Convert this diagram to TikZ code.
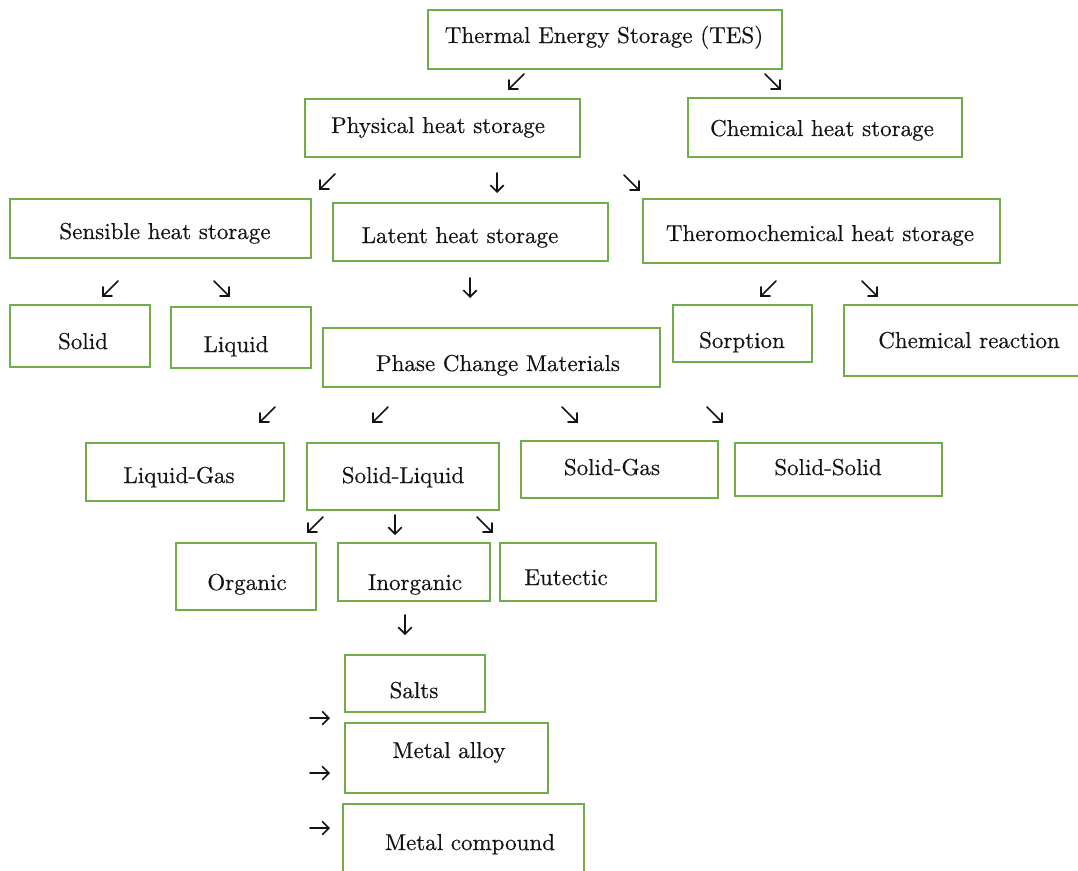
\documentclass[tikz,border=0pt]{standalone}
\usepackage{fontspec}
\newfontfamily\lblfont{lmroman10-regular.otf}[FakeBold=0.4]
\usetikzlibrary{arrows.meta}
\definecolor{boxgreen}{HTML}{70AD47}
\definecolor{txtc}{HTML}{141414}
\tikzset{
  box/.style={draw=boxgreen, line width=1.6pt, rectangle, inner sep=0pt, fill=none},
  lbl/.style={text=txtc, font=\lblfont\fontsize{23}{27}\selectfont, inner sep=0pt, anchor=base},
  garr/.style={draw=txtc, line width=1.6pt, line cap=round, -{Straight Barb[length=6.5pt,width=13pt,line cap=round]}},
  pics/adl/.style={code={\draw[garr] (8,-8) -- (-8,8);}},
  pics/adr/.style={code={\draw[garr] (-8,-8) -- (8,8);}},
  pics/add/.style={code={\draw[garr] (0,-10) -- (0,10);}},
  pics/arr/.style={code={\draw[garr] (-10,0) -- (10,0);}},
}
\begin{document}
\begin{tikzpicture}[x=1pt,y=-1pt]
\useasboundingbox[fill=white] (0,0) rectangle (1078,870);
% boxes
\node[box, minimum width=354pt, minimum height=59pt] (tes) at (605,39.5) {};
\node[box, minimum width=275pt, minimum height=58pt] (phys) at (442.5,128) {};
\node[box, minimum width=274pt, minimum height=59pt] (chem) at (825,127.5) {};
\node[box, minimum width=301pt, minimum height=59pt] (sens) at (160.5,228.5) {};
\node[box, minimum width=275pt, minimum height=58pt] (lat) at (470.5,232) {};
\node[box, minimum width=357pt, minimum height=64pt] (thermo) at (821.5,231) {};
\node[box, minimum width=140pt, minimum height=62pt] (solid) at (80,336) {};
\node[box, minimum width=140pt, minimum height=61pt] (liquid) at (241,337.5) {};
\node[box, minimum width=337pt, minimum height=59pt] (pcm) at (491.5,357.5) {};
\node[box, minimum width=139pt, minimum height=57pt] (sorp) at (742.5,333.5) {};
\node[box, minimum width=241pt, minimum height=71pt] (chemr) at (964.5,340.5) {};
\node[box, minimum width=198pt, minimum height=58pt] (lg) at (185,472) {};
\node[box, minimum width=192pt, minimum height=67pt] (sl) at (403,476.5) {};
\node[box, minimum width=197pt, minimum height=57pt] (sg) at (619.5,469.5) {};
\node[box, minimum width=207pt, minimum height=53pt] (ss) at (838.5,469.5) {};
\node[box, minimum width=140pt, minimum height=67pt] (org) at (246,576.5) {};
\node[box, minimum width=152pt, minimum height=58pt] (inorg) at (414,572) {};
\node[box, minimum width=156pt, minimum height=58pt] (eut) at (578,572) {};
\node[box, minimum width=140pt, minimum height=57pt] (salts) at (415,683.5) {};
\node[box, minimum width=203pt, minimum height=70pt] (alloy) at (446.5,758) {};
\node[box, minimum width=241pt, minimum height=76pt] (comp) at (463.5,842) {};
% labels
\node[lbl] (tes-t) at (604,43) {Thermal Energy Storage (TES)};
\node[lbl] (phys-t) at (438,133) {Physical heat storage};
\node[lbl] (chem-t) at (822,136) {Chemical heat storage};
\node[lbl] (sens-t) at (165,239) {Sensible heat storage};
\node[lbl] (lat-t) at (460,243) {Latent heat storage};
\node[lbl] (thermo-t) at (820,241) {Theromochemical heat storage};
\node[lbl] (solid-t) at (83,349) {Solid};
\node[lbl] (liquid-t) at (236,352) {Liquid};
\node[lbl] (sorp-t) at (742,348) {Sorption};
\node[lbl] (chemr-t) at (969,348) {Chemical reaction};
\node[lbl] (pcm-t) at (498,371) {Phase Change Materials};
\node[lbl] (lg-t) at (179,483) {Liquid-Gas};
\node[lbl] (sl-t) at (403,483) {Solid-Liquid};
\node[lbl] (sg-t) at (612,475) {Solid-Gas};
\node[lbl] (ss-t) at (828,475) {Solid-Solid};
\node[lbl] (org-t) at (247,590) {Organic};
\node[lbl] (inorg-t) at (415,590) {Inorganic};
\node[lbl] (eut-t) at (566,585) {Eutectic};
\node[lbl] (salts-t) at (414,698) {Salts};
\node[lbl] (alloy-t) at (449,758) {Metal alloy};
\node[lbl] (comp-t) at (470,850) {Metal compound};
% arrow glyphs
\pic at (516,82) {adl};
\pic at (773,82) {adr};
\pic at (327,182) {adl};
\pic at (497,183) {add};
\pic at (632,183) {adr};
\pic at (110,289) {adl};
\pic at (222,289) {adr};
\pic at (470,288) {add};
\pic at (768,289) {adl};
\pic at (870,289) {adr};
\pic at (267,415) {adl};
\pic at (380,415) {adl};
\pic at (570,415) {adr};
\pic at (715,415) {adr};
\pic at (315,525) {adl};
\pic at (395,525) {add};
\pic at (485,525) {adr};
\pic at (405,625) {add};
\pic at (320,718) {arr};
\pic at (320,773) {arr};
\pic at (320,828) {arr};
\end{tikzpicture}
\end{document}
